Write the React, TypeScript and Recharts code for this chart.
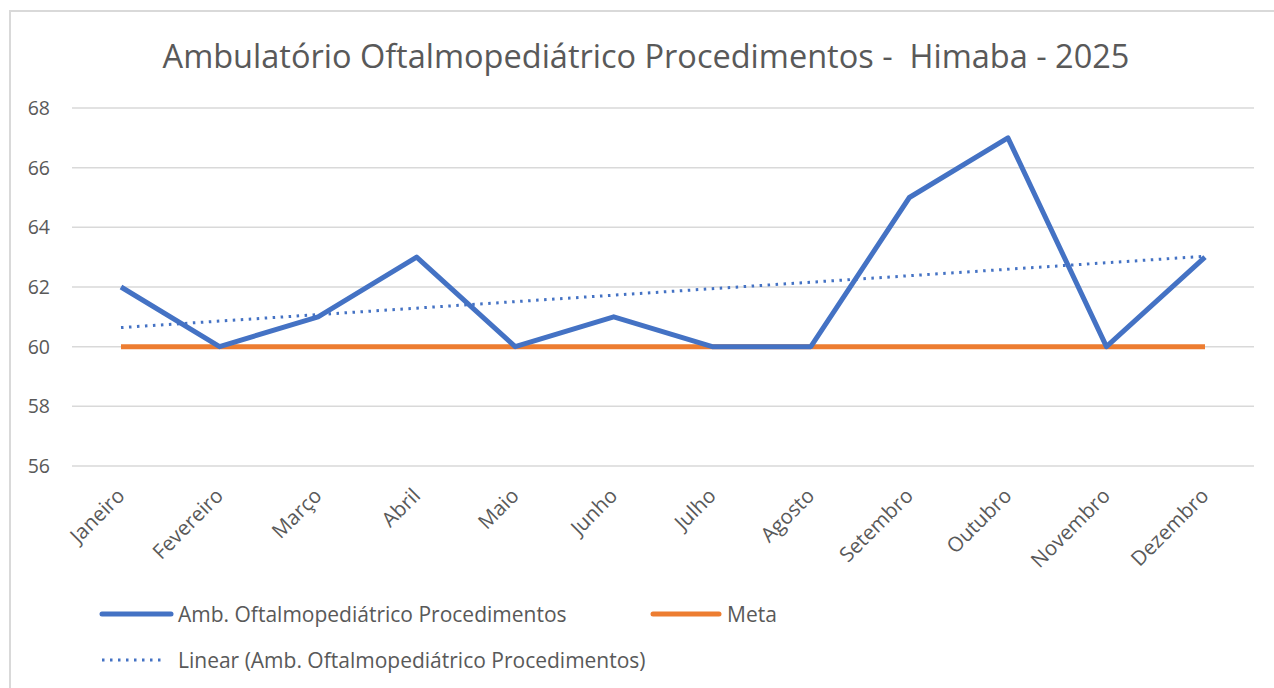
import {
  CartesianGrid,
  Line,
  LineChart,
  XAxis,
  YAxis,
} from 'recharts'

const months = [
  'Janeiro', 'Fevereiro', 'Março', 'Abril', 'Maio', 'Junho',
  'Julho', 'Agosto', 'Setembro', 'Outubro', 'Novembro', 'Dezembro',
]
const procedimentos = [62, 60, 61, 63, 60, 61, 60, 60, 65, 67, 60, 63]
const meta = [60, 60, 60, 60, 60, 60, 60, 60, 60, 60, 60, 60]
// linear trend line, read at its two ends
const trendStart = 60.64
const trendEnd = 63.03
const yTicks = [56, 58, 60, 62, 64, 66, 68]

const BLUE = '#4472C4'
const ORANGE = '#ED7D31'
const TEXT = '#595959'
const FONT = '"Open Sans", "Noto Sans", sans-serif'

const data = months.map((m, i) => ({
  month: m,
  value: procedimentos[i],
  meta: meta[i],
  trend: i === 0 ? trendStart : i === months.length - 1 ? trendEnd : null,
}))

function MonthTick(props: any) {
  const { x, y, payload } = props
  const tx = x + 5
  const ty = y + 23
  return (
    <text
      x={tx}
      y={ty}
      textAnchor="end"
      transform={`rotate(-45 ${tx} ${ty})`}
      fill={TEXT}
      fontSize={20.5}
      fontFamily={FONT}
    >
      {payload.value}
    </text>
  )
}

function ChartLegend() {
  const item = (sample: any, label: string, left: number, top: number) => (
    <div style={{ position: 'absolute', left, top, display: 'flex', alignItems: 'center', whiteSpace: 'nowrap' }}>
      <svg width={80} height={10}>{sample}</svg>
      <span style={{ color: TEXT, fontSize: 21, fontFamily: FONT }}>{label}</span>
    </div>
  )
  return (
    <div style={{ position: 'absolute', left: 0, top: 600, width: 1274, height: 80 }}>
      {item(
        <line x1={4} y1={5} x2={73} y2={5} stroke={BLUE} strokeWidth={5} strokeLinecap="round" />,
        'Amb. Oftalmopediátrico Procedimentos', 98, 0,
      )}
      {item(
        <line x1={6} y1={5} x2={72} y2={5} stroke={ORANGE} strokeWidth={5} strokeLinecap="round" />,
        'Meta', 647, 0,
      )}
      {item(
        <line x1={4} y1={5} x2={68} y2={5} stroke={BLUE} strokeWidth={3} strokeDasharray="2.5 5.5" />,
        'Linear (Amb. Oftalmopediátrico Procedimentos)', 98, 46,
      )}
    </div>
  )
}

export default function App() {
  return (
    <div style={{ position: 'absolute', left: 0, top: 0, width: 1274, height: 688, background: '#fff', overflow: 'hidden' }}>
      <div
        style={{
          position: 'absolute', left: 9, top: 10, width: 1290, height: 700,
          border: '2px solid #d9d9d9', boxSizing: 'border-box',
        }}
      />
      <div
        style={{
          position: 'absolute', left: 0, top: 33, width: 1292, textAlign: 'center',
          color: TEXT, fontSize: 32.5, fontFamily: FONT, whiteSpace: 'nowrap',
        }}
      >
        Ambulatório Oftalmopediátrico Procedimentos -&nbsp; Himaba - 2025
      </div>
      <div style={{ position: 'absolute', left: 0, top: 0 }}>
        <LineChart
          width={1274}
          height={688}
          data={data}
          margin={{ top: 108, right: 20, bottom: 122, left: 0 }}
        >
          <CartesianGrid vertical={false} stroke="#d9d9d9" strokeWidth={1.5} />
          <XAxis
            dataKey="month"
            axisLine={false}
            tickLine={false}
            interval={0}
            padding={{ left: 49, right: 49 }}
            tick={<MonthTick />}
            height={100}
          />
          <YAxis
            width={72}
            domain={[56, 68]}
            ticks={yTicks}
            axisLine={false}
            tickLine={false}
            tickSize={0}
            tickMargin={22}
            tick={{ fill: TEXT, fontSize: 19.5, fontFamily: FONT }}
          />
          <Line
            dataKey="meta"
            stroke={ORANGE}
            strokeWidth={5}
            dot={false}
            isAnimationActive={false}
          />
          <Line
            dataKey="value"
            stroke={BLUE}
            strokeWidth={5}
            dot={false}
            strokeLinejoin="round"
            isAnimationActive={false}
          />
          <Line
            dataKey="trend"
            stroke={BLUE}
            strokeWidth={3}
            strokeDasharray="2.5 5.5"
            connectNulls
            dot={false}
            isAnimationActive={false}
          />
        </LineChart>
      </div>
      <ChartLegend />
    </div>
  )
}
